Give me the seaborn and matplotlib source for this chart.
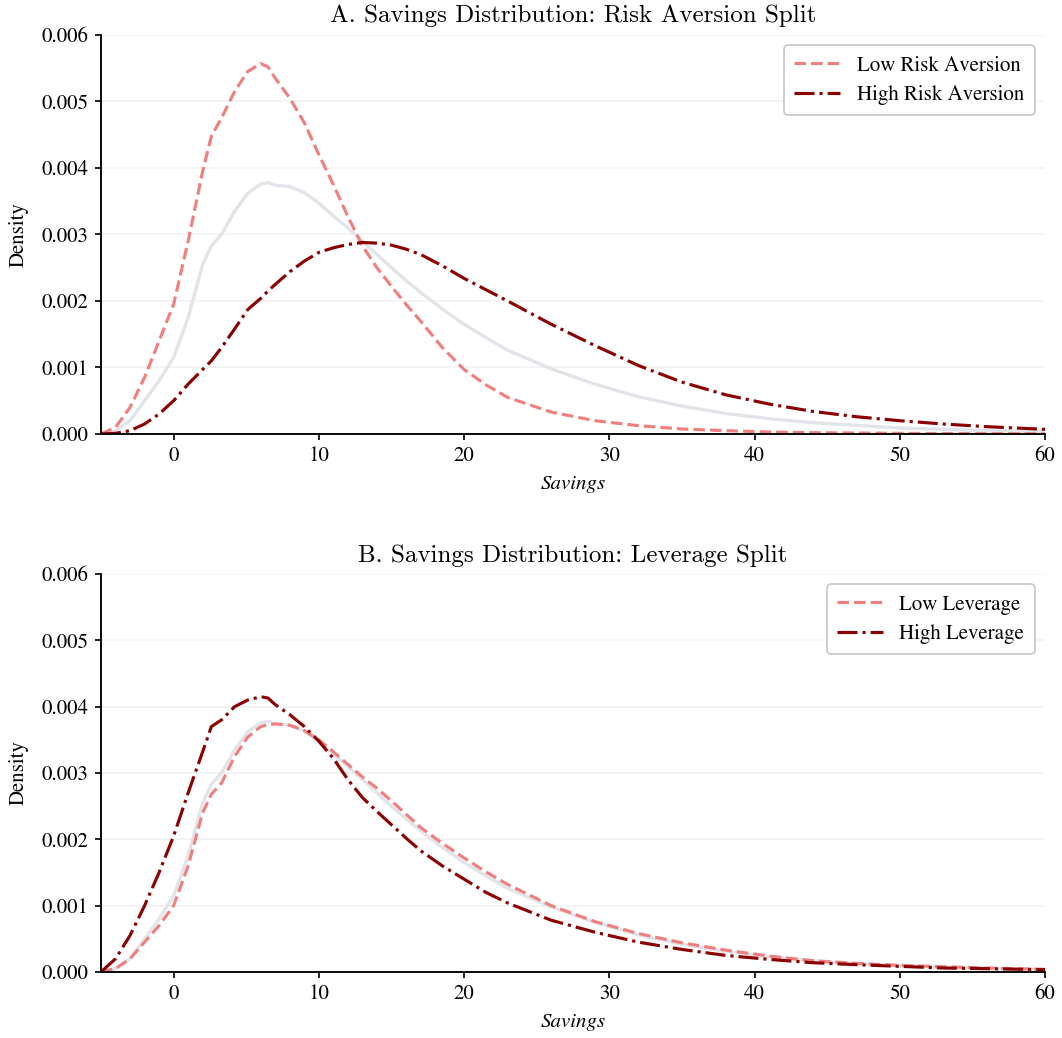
import numpy as np
import pandas as pd
import matplotlib
matplotlib.use("Agg")
import matplotlib.pyplot as plt
import seaborn as sns

# ---------------- data ----------------
savings = [-5, -4, -3, -2, -1, 0, 1, 2, 2.6, 3.3, 4.2, 5.1, 6, 6.5, 7, 8, 9, 10,
           11, 12, 13, 14, 15, 16, 17, 18.5, 20, 21.5, 23, 26, 29, 32, 35, 38, 41,
           44, 47, 50, 53, 56, 60]

overall = [0, 0.00005, 0.0002, 0.0005, 0.0008, 0.00115, 0.00175, 0.00255, 0.00283,
           0.0030, 0.00335, 0.00362, 0.00376, 0.00378, 0.00374, 0.00372, 0.00363,
           0.00347, 0.00328, 0.0031, 0.0029, 0.0027, 0.0025, 0.00231, 0.00213,
           0.00188, 0.00165, 0.00145, 0.00126, 0.00098, 0.00075, 0.00056, 0.00042,
           0.00031, 0.00023, 0.00017, 0.00013, 0.00009, 0.00007, 0.00005, 0.000035]

low_risk_aversion = [0, 0.0001, 0.0004, 0.00085, 0.0014, 0.00195, 0.0029, 0.00395,
                     0.00448, 0.00475, 0.00515, 0.00545, 0.00557, 0.00552, 0.00535,
                     0.00505, 0.00468, 0.0042, 0.00375, 0.00327, 0.00283, 0.0025,
                     0.00222, 0.00195, 0.0017, 0.0013, 0.00097, 0.00074, 0.00055,
                     0.00033, 0.0002, 0.000125, 0.000075, 0.00005, 0.00003, 0.00002,
                     0.000015, 0.00001, 0.000007, 0.000005, 0.000003]

high_risk_aversion = [0, 0.00001, 0.00005, 0.00015, 0.0003, 0.0005, 0.00075, 0.00097,
                      0.0011, 0.0013, 0.00158, 0.00187, 0.00204, 0.00215, 0.00225,
                      0.00244, 0.0026, 0.00273, 0.0028, 0.00285, 0.00288, 0.00287,
                      0.00284, 0.00278, 0.0027, 0.00253, 0.00234, 0.00217, 0.002,
                      0.00165, 0.00133, 0.00103, 0.00078, 0.00059, 0.00045, 0.00034,
                      0.00026, 0.0002, 0.00015, 0.00011, 0.00007]

low_leverage = [0, 0.00005, 0.0002, 0.00045, 0.0007, 0.001, 0.0016, 0.0024, 0.00268,
                0.00285, 0.00325, 0.00354, 0.0037, 0.00373, 0.00374, 0.00372, 0.00364,
                0.0035, 0.00332, 0.00313, 0.00294, 0.00277, 0.00258, 0.00238, 0.00218,
                0.00194, 0.00172, 0.00151, 0.00132, 0.001, 0.00076, 0.00058, 0.00044,
                0.00033, 0.00024, 0.00017, 0.00013, 0.0001, 0.00008, 0.00006, 0.00004]

high_leverage = [0, 0.0002, 0.00055, 0.001, 0.0015, 0.00205, 0.0027, 0.00332, 0.0037,
                 0.0038, 0.004, 0.0041, 0.00415, 0.00413, 0.00403, 0.00388, 0.0037,
                 0.00348, 0.00322, 0.0029, 0.00263, 0.00242, 0.00222, 0.00202, 0.00183,
                 0.0016, 0.0014, 0.0012, 0.00104, 0.00078, 0.0006, 0.00045, 0.00034,
                 0.00025, 0.00019, 0.00014, 0.00011, 0.000085, 0.00006, 0.00005,
                 0.000035]

panels = [
    ("A. Savings Distribution: Risk Aversion Split",
     ("Low Risk Aversion", low_risk_aversion),
     ("High Risk Aversion", high_risk_aversion)),
    ("B. Savings Distribution: Leverage Split",
     ("Low Leverage", low_leverage),
     ("High Leverage", high_leverage)),
]

# ---------------- style ----------------
sns.set_theme(style="white")
plt.rcParams["font.family"] = ["STIXGeneral", "Liberation Serif", "DejaVu Serif"]
plt.rcParams["axes.edgecolor"] = "black"
plt.rcParams["axes.linewidth"] = 0.9
plt.rcParams["xtick.color"] = "black"
plt.rcParams["ytick.color"] = "black"
plt.rcParams["text.color"] = "black"
plt.rcParams["axes.labelcolor"] = "black"
plt.rcParams["axes.titlecolor"] = "black"
plt.rcParams["axes.unicode_minus"] = False

C_LOW = "#F08080"
C_HIGH = "#8B0000"
C_ALL = "#e1e4e8"

fig = plt.figure(figsize=(1062 / 150, 1038 / 150), dpi=150)
axes = [fig.add_axes([0.0951, 0.5819, 0.8889, 0.3844]),
        fig.add_axes([0.0951, 0.0636, 0.8889, 0.3834])]

for ax, (title, (lo_name, lo_vals), (hi_name, hi_vals)) in zip(axes, panels):
    df = pd.DataFrame({"Savings": savings, "overall": overall,
                       "low": lo_vals, "high": hi_vals})
    sns.lineplot(data=df, x="Savings", y="overall", ax=ax, color=C_ALL,
                 linewidth=1.6, estimator=None, label="_nolegend_")
    sns.lineplot(data=df, x="Savings", y="low", ax=ax, color=C_LOW,
                 linewidth=1.5, linestyle="--", estimator=None, label=lo_name)
    sns.lineplot(data=df, x="Savings", y="high", ax=ax, color=C_HIGH,
                 linewidth=1.5, linestyle="-.", estimator=None, label=hi_name)

    ax.set_xlim(-5, 60)
    ax.set_ylim(0, 0.006)
    ax.set_yticks(np.arange(0, 0.0061, 0.001))
    ax.set_yticklabels([f"{v:.3f}" for v in np.arange(0, 0.0061, 0.001)])
    ax.set_xticks([0, 10, 20, 30, 40, 50, 60])
    ax.tick_params(axis="both", which="major", labelsize=10, direction="out",
                   length=3, width=0.8, bottom=True, left=True, pad=3)
    ax.yaxis.grid(True, color="#f2f2f2", linewidth=0.8)
    ax.xaxis.grid(False)
    ax.set_axisbelow(True)
    sns.despine(ax=ax)
    ax.set_title(title, fontsize=12, pad=6, family=["cmr10", "STIXGeneral"])
    ax.set_xlabel("Savings", fontsize=10, fontstyle="italic", labelpad=4)
    ax.set_ylabel("Density", fontsize=10, labelpad=6)
    leg = ax.legend(loc="upper right", fontsize=10, frameon=True,
                    fancybox=True, edgecolor="#cccccc", framealpha=1.0,
                    handlelength=2.2, borderpad=0.5, labelspacing=0.45)
    leg.get_frame().set_linewidth(0.9)

fig.savefig("out.png", dpi=150)
